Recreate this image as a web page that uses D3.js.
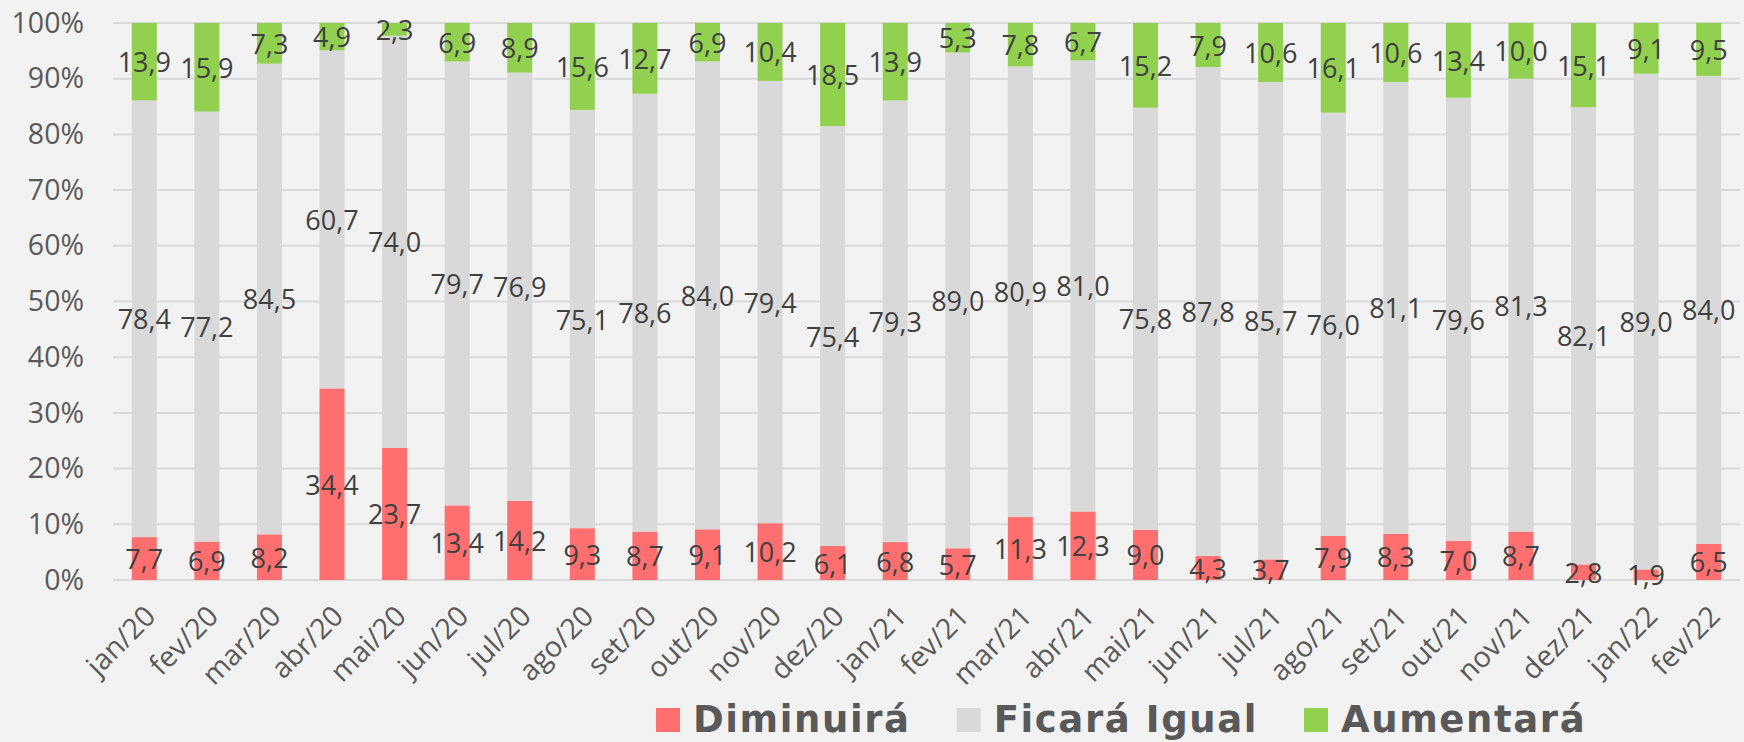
<!DOCTYPE html>
<html>
<head>
<meta charset="utf-8">
<script src="https://cdn.jsdelivr.net/npm/d3@7"></script>
<style>
  body { margin: 0; background: #F2F2F2; }
  svg { display: block; }
</style>
</head>
<body>
<div id="myChart"></div>
<script>
// data
var months = ["jan/20","fev/20","mar/20","abr/20","mai/20","jun/20","jul/20","ago/20","set/20","out/20","nov/20","dez/20",
              "jan/21","fev/21","mar/21","abr/21","mai/21","jun/21","jul/21","ago/21","set/21","out/21","nov/21","dez/21",
              "jan/22","fev/22"];
var diminuira = [7.7,6.9,8.2,34.4,23.7,13.4,14.2,9.3,8.7,9.1,10.2,6.1,6.8,5.7,11.3,12.3,9.0,4.3,3.7,7.9,8.3,7.0,8.7,2.8,1.9,6.5];
var ficaraIgual = [78.4,77.2,84.5,60.7,74.0,79.7,76.9,75.1,78.6,84.0,79.4,75.4,79.3,89.0,80.9,81.0,75.8,87.8,85.7,76.0,81.1,79.6,81.3,82.1,89.0,84.0];
var aumentara = [13.9,15.9,7.3,4.9,2.3,6.9,8.9,15.6,12.7,6.9,10.4,18.5,13.9,5.3,7.8,6.7,15.2,7.9,10.6,16.1,10.6,13.4,10.0,15.1,9.1,9.5];
var seriesNames = ["Diminuirá","Ficará Igual","Aumentará"];
var yTicks = [0,0.1,0.2,0.3,0.4,0.5,0.6,0.7,0.8,0.9,1];

var colors = {"Diminuirá": "#FF6F6F", "Ficará Igual": "#D9D9D9", "Aumentará": "#92D050"};

var W = 1744, H = 742;
var plot = {left: 113, right: 1740, top: 23, bottom: 580};

// build table for the stack
var table = months.map(function(m, i) {
    return {month: m, "Diminuirá": diminuira[i], "Ficará Igual": ficaraIgual[i], "Aumentará": aumentara[i]};
});

var stacked = d3.stack()
    .keys(seriesNames)
    .offset(d3.stackOffsetExpand)(table);

var svg = d3.select("#myChart")
    .append("svg")
      .attr("width", W)
      .attr("height", H);

var x = d3.scaleBand()
    .domain(months)
    .range([plot.left, plot.right])
    .paddingInner(0.6)
    .paddingOuter(0.3);

var y = d3.scaleLinear()
    .domain([0, 1])
    .range([plot.bottom, plot.top]);

// gridlines
svg.append("g")
    .selectAll("line")
    .data(yTicks)
    .enter()
    .append("line")
      .attr("x1", plot.left)
      .attr("x2", plot.right)
      .attr("y1", function(d) { return y(d); })
      .attr("y2", function(d) { return y(d); })
      .attr("stroke", "#D9D9D9")
      .attr("stroke-width", 2);

// y axis labels
var yAxis = svg.append("g")
    .attr("transform", "translate(" + plot.left + ",0)")
    .call(d3.axisLeft(y)
            .tickValues(yTicks)
            .tickFormat(d3.format(".0%"))
            .tickSize(0)
            .tickPadding(29));
yAxis.select(".domain").remove();
yAxis.selectAll("text")
    .attr("font-family", "'Open Sans', sans-serif")
    .attr("font-size", "28.5px")
    .attr("fill", "#595959");

// bars
var layers = svg.append("g")
    .selectAll("g")
    .data(stacked)
    .enter()
    .append("g")
      .attr("fill", function(d) { return colors[d.key]; });

layers.selectAll("rect")
    .data(function(d) { return d; })
    .enter()
    .append("rect")
      .attr("x", function(d) { return x(d.data.month); })
      .attr("y", function(d) { return y(d[1]); })
      .attr("height", function(d) { return y(d[0]) - y(d[1]); })
      .attr("width", x.bandwidth());

// data labels
var fmt = function(v) { return d3.format(".1f")(v).replace(".", ","); };
stacked.forEach(function(layer) {
    svg.append("g")
        .selectAll("text")
        .data(layer)
        .enter()
        .append("text")
          .attr("x", function(d) { return x(d.data.month) + x.bandwidth() / 2; })
          .attr("y", function(d) { return y((d[0] + d[1]) / 2); })
          .attr("text-anchor", "middle")
          .attr("dominant-baseline", "central")
          .attr("font-family", "'Open Sans', sans-serif")
          .attr("font-size", "27px")
          .attr("fill", "#404040")
          .text(function(d) { return fmt(d.data[layer.key]); });
});

// x axis labels
var xAxis = svg.append("g")
    .attr("transform", "translate(0," + plot.bottom + ")")
    .call(d3.axisBottom(x).tickSize(0));
xAxis.select(".domain").remove();
xAxis.selectAll("text")
    .attr("y", 0)
    .attr("dy", "0.35em")
    .attr("text-anchor", "end")
    .attr("transform", "translate(6,31) rotate(-45)")
    .attr("font-family", "'Open Sans', sans-serif")
    .attr("font-size", "28.5px")
    .attr("fill", "#595959");

// legend
var legend = svg.append("g");
var lx = 656;
seriesNames.forEach(function(name) {
    legend.append("rect")
        .attr("x", lx)
        .attr("y", 708)
        .attr("width", 24)
        .attr("height", 24)
        .attr("fill", colors[name]);
    var t = legend.append("text")
        .attr("x", lx + 37)
        .attr("y", 732)
        .attr("font-family", "'DejaVu Sans', sans-serif")
        .attr("font-weight", "bold")
        .attr("font-size", "37px")
        .attr("letter-spacing", "1.6px")
        .attr("fill", "#595959")
        .text(name);
    lx = lx + 37 + t.node().getComputedTextLength() + 46;
});
</script>
</body>
</html>
